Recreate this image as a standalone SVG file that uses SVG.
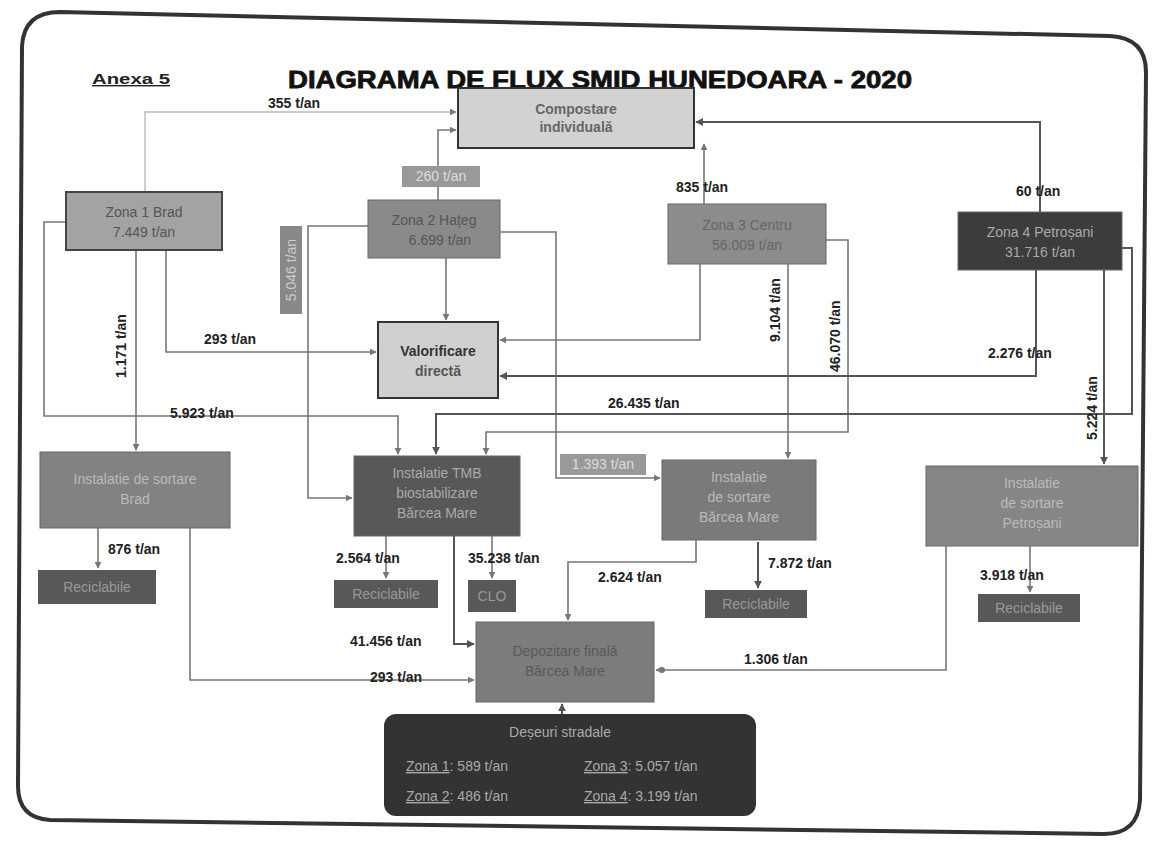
<svg xmlns="http://www.w3.org/2000/svg" width="1168" height="842" viewBox="0 0 1168 842">
<defs>
<marker id="ah" viewBox="0 0 10 10" refX="9" refY="5" markerWidth="7" markerHeight="7" orient="auto" markerUnits="userSpaceOnUse">
<path d="M0,0 L10,5 L0,10 z" fill="#777"/>
</marker>
<marker id="ahd" viewBox="0 0 10 10" refX="9" refY="5" markerWidth="8" markerHeight="8" orient="auto" markerUnits="userSpaceOnUse">
<path d="M0,0 L10,5 L0,10 z" fill="#555"/>
</marker>
<style>
text{font-family:"Liberation Sans",Arial,sans-serif}
.n{font-size:14px;text-anchor:middle}
.lbl{font-size:14px;font-weight:bold;fill:#222}
.c{fill:none;stroke:#777;stroke-width:1.6}
.cl{fill:none;stroke:#bbb;stroke-width:1.4}
.cd{fill:none;stroke:#555;stroke-width:2}
.box{stroke:#666;stroke-width:1}
</style>
</defs>
<rect width="1168" height="842" fill="#fff"/>
<path d="M60,12 L1110,36 Q1146,38 1146,72 L1140,800 Q1138,834 1104,834 L50,820 Q18,818 18,786 L22,46 Q24,12 60,12 Z" fill="none" stroke="#333" stroke-width="4"/>
<text x="92" y="84" font-size="14" font-weight="bold" fill="#222" text-decoration="underline" textLength="78" lengthAdjust="spacingAndGlyphs">Anexa 5</text>
<text x="288" y="88" font-size="24" font-weight="bold" fill="#111" textLength="624" lengthAdjust="spacingAndGlyphs" stroke="#111" stroke-width="0.8">DIAGRAMA DE FLUX SMID HUNEDOARA - 2020</text>

<g id="connectors">
<path class="cl" d="M145,192 V112 H456" marker-end="url(#ah)"/>
<path class="c" d="M438,200 V130 H456" marker-end="url(#ah)"/>
<path class="c" d="M704,204 V144" marker-end="url(#ah)"/>
<path class="cd" d="M1040,212 V122 H696" marker-end="url(#ahd)"/>
<path class="c" d="M166,250 V352 H376" marker-end="url(#ah)"/>
<path class="c" d="M136,250 V450" marker-end="url(#ah)"/>
<path class="c" d="M66,222 H44 V416 H398 V454" marker-end="url(#ah)"/>
<path class="c" d="M446,258 V320" marker-end="url(#ah)"/>
<path class="c" d="M368,226 H308 V498 H352" marker-end="url(#ah)"/>
<path class="c" d="M500,232 H556 V478 H660" marker-end="url(#ah)"/>
<path class="c" d="M700,264 V340 H500" marker-end="url(#ah)"/>
<path class="c" d="M788,264 V458" marker-end="url(#ah)"/>
<path class="c" d="M826,240 H848 V432 H486 V454" marker-end="url(#ah)"/>
<path class="cd" d="M1036,270 V376 H500" marker-end="url(#ahd)"/>
<path class="cd" d="M1122,248 H1132 V414 H436 V454" marker-end="url(#ahd)"/>
<path class="cd" d="M1104,270 V464" marker-end="url(#ahd)"/>
<path class="c" d="M98,528 V568" marker-end="url(#ah)"/>
<path class="c" d="M190,528 V680 H474" marker-end="url(#ah)"/>
<path class="c" d="M386,536 V578" marker-end="url(#ah)"/>
<path class="c" d="M492,536 V578" marker-end="url(#ah)"/>
<path class="cd" d="M454,536 V644 H474" marker-end="url(#ahd)"/>
<path class="c" d="M696,540 V562 H568 V620" marker-end="url(#ah)"/>
<path class="cd" d="M758,542 V588" marker-end="url(#ahd)"/>
<path class="c" d="M1030,546 V592" marker-end="url(#ah)"/>
<path class="c" d="M946,546 V670 H656" marker-end="url(#ah)"/>
<circle cx="662" cy="670" r="3" fill="#777"/>
<path class="cd" d="M562,714 V704" marker-end="url(#ahd)"/>
<text class="lbl" x="268" y="108">355 t/an</text>
<text class="lbl" x="676" y="192">835 t/an</text>
<text class="lbl" x="1016" y="196">60 t/an</text>
<text class="lbl" x="204" y="344" fill="#333">293 t/an</text>
<text class="lbl" transform="translate(126,378) rotate(-90)">1.171 t/an</text>
<text class="lbl" x="170" y="418" fill="#333">5.923 t/an</text>
<text class="lbl" transform="translate(780,342) rotate(-90)">9.104 t/an</text>
<text class="lbl" transform="translate(840,372) rotate(-90)">46.070 t/an</text>
<text class="lbl" x="988" y="358">2.276 t/an</text>
<text class="lbl" x="608" y="408">26.435 t/an</text>
<text class="lbl" transform="translate(1097,440) rotate(-90)">5.224 t/an</text>
<text class="lbl" x="108" y="554" fill="#555">876 t/an</text>
<text class="lbl" x="336" y="563">2.564 t/an</text>
<text class="lbl" x="468" y="563">35.238 t/an</text>
<text class="lbl" x="598" y="582" fill="#333">2.624 t/an</text>
<text class="lbl" x="768" y="568" fill="#333">7.872 t/an</text>
<text class="lbl" x="980" y="580" fill="#333">3.918 t/an</text>
<text class="lbl" x="350" y="646">41.456 t/an</text>
<text class="lbl" x="370" y="682">293 t/an</text>
<text class="lbl" x="744" y="664" fill="#333">1.306 t/an</text>
</g>

<g id="lbl-260"><rect x="402" y="166" width="78" height="21" fill="#999"/><text class="n" x="441" y="181" fill="#ddd">260 t/an</text></g>
<g id="lbl-5046"><rect x="280" y="226" width="22" height="88" fill="#888"/><text class="n" transform="translate(296,270) rotate(-90)" fill="#ccc">5.046 t/an</text></g>
<g id="lbl-1393"><rect x="560" y="454" width="86" height="21" fill="#999"/><text class="n" x="603" y="469" fill="#ddd">1.393 t/an</text></g>

<g id="compostare"><rect x="458" y="88" width="236" height="60" fill="#d2d2d2" stroke="#333" stroke-width="2"/><text class="n" x="576" y="114" fill="#666" font-weight="bold">Compostare</text><text class="n" x="576" y="132" fill="#666" font-weight="bold">individuală</text></g>
<g id="zona1"><rect x="66" y="192" width="156" height="58" fill="#a3a3a3" stroke="#444" stroke-width="2"/><text class="n" x="144" y="217" fill="#555">Zona 1 Brad</text><text class="n" x="144" y="237" fill="#555">7.449 t/an</text></g>
<g id="zona2"><rect x="368" y="200" width="132" height="58" fill="#8a8a8a" class="box"/><text class="n" x="434" y="225" fill="#555">Zona 2 Hațeg</text><text class="n" x="440" y="245" fill="#555">6.699 t/an</text></g>
<g id="zona3"><rect x="668" y="204" width="158" height="60" fill="#8c8c8c" class="box"/><text class="n" x="747" y="230" fill="#666">Zona 3 Centru</text><text class="n" x="747" y="250" fill="#666">56.009 t/an</text></g>
<g id="zona4"><rect x="958" y="212" width="164" height="58" fill="#3c3c3c" class="box"/><text class="n" x="1040" y="237" fill="#aaa">Zona 4 Petroșani</text><text class="n" x="1040" y="257" fill="#aaa">31.716 t/an</text></g>
<g id="valorificare"><rect x="378" y="322" width="120" height="76" fill="#d0d0d0" stroke="#333" stroke-width="2"/><text class="n" x="438" y="356" fill="#333" font-weight="bold">Valorificare</text><text class="n" x="438" y="376" fill="#555" font-weight="bold">directă</text></g>
<g id="sortare-brad"><rect x="40" y="452" width="190" height="76" fill="#828282" class="box"/><text class="n" x="135" y="484" fill="#bbb">Instalatie de sortare</text><text class="n" x="135" y="504" fill="#bbb">Brad</text></g>
<g id="tmb"><rect x="354" y="456" width="166" height="80" fill="#585858" class="box"/><text class="n" x="437" y="478" fill="#aaa">Instalatie TMB</text><text class="n" x="437" y="498" fill="#aaa">biostabilizare</text><text class="n" x="437" y="518" fill="#aaa">Bărcea Mare</text></g>
<g id="sortare-barcea"><rect x="662" y="460" width="154" height="80" fill="#7a7a7a" class="box"/><text class="n" x="739" y="482" fill="#bbb">Instalatie</text><text class="n" x="739" y="502" fill="#bbb">de sortare</text><text class="n" x="739" y="522" fill="#bbb">Bărcea Mare</text></g>
<g id="sortare-petrosani"><rect x="926" y="466" width="212" height="80" fill="#868686" class="box"/><text class="n" x="1032" y="488" fill="#bbb">Instalatie</text><text class="n" x="1032" y="508" fill="#bbb">de sortare</text><text class="n" x="1032" y="528" fill="#bbb">Petroșani</text></g>
<g id="recicl-brad"><rect x="38" y="570" width="118" height="34" fill="#585858"/><text class="n" x="97" y="592" fill="#999">Reciclabile</text></g>
<g id="recicl-tmb"><rect x="334" y="580" width="104" height="28" fill="#585858"/><text class="n" x="386" y="599" fill="#999">Reciclabile</text></g>
<g id="clo"><rect x="468" y="580" width="48" height="32" fill="#585858"/><text class="n" x="492" y="601" fill="#999">CLO</text></g>
<g id="recicl-barcea"><rect x="705" y="590" width="102" height="28" fill="#585858"/><text class="n" x="756" y="609" fill="#999">Reciclabile</text></g>
<g id="recicl-petrosani"><rect x="978" y="594" width="102" height="28" fill="#585858"/><text class="n" x="1029" y="613" fill="#999">Reciclabile</text></g>
<g id="depozitare"><rect x="476" y="622" width="178" height="80" fill="#7c7c7c" class="box"/><text class="n" x="565" y="656" fill="#5a5a5a">Depozitare finală</text><text class="n" x="565" y="676" fill="#5a5a5a">Bărcea Mare</text></g>
<g id="deseuri-stradale"><rect x="384" y="714" width="372" height="102" rx="12" fill="#333"/>
<text class="n" x="560" y="737" fill="#aaa">Deșeuri stradale</text>
<text x="406" y="771" font-size="14" fill="#aaa"><tspan text-decoration="underline">Zona 1</tspan>: 589 t/an</text>
<text x="584" y="771" font-size="14" fill="#aaa"><tspan text-decoration="underline">Zona 3</tspan>: 5.057 t/an</text>
<text x="406" y="801" font-size="14" fill="#aaa"><tspan text-decoration="underline">Zona 2</tspan>: 486 t/an</text>
<text x="584" y="801" font-size="14" fill="#aaa"><tspan text-decoration="underline">Zona 4</tspan>: 3.199 t/an</text>
</g>
</svg>
